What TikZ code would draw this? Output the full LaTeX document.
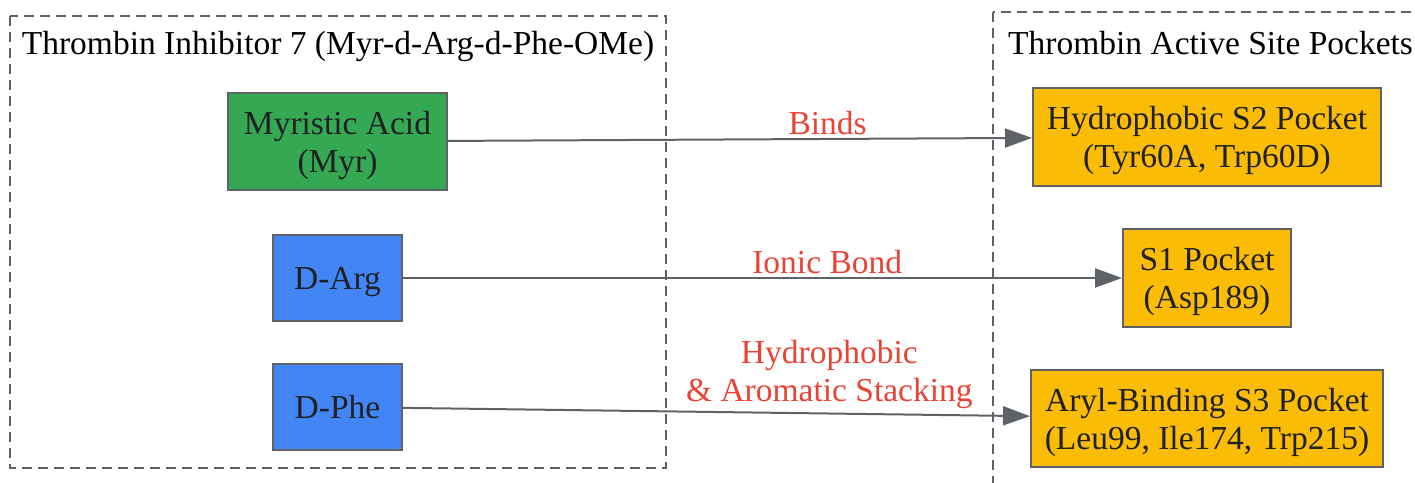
\documentclass[tikz,border=0pt]{standalone}
\usepackage{fontspec}
\setmainfont{Liberation Serif}
\usetikzlibrary{
  arrows.meta,
  positioning,
}
\definecolor{myrgreen}{HTML}{34A853}
\definecolor{argblue}{HTML}{4285F4}
\definecolor{pocketyellow}{HTML}{FBBC05}
\definecolor{bondred}{HTML}{EA4335}
\definecolor{linegray}{HTML}{5F6368}
\definecolor{textdark}{HTML}{202124}

\begin{document}
\begin{tikzpicture}[x=1pt, y=-1pt,
  part/.style={draw=linegray, line width=2pt, text=textdark, align=center, text depth=0pt, font=\fontsize{33.5}{38}\selectfont},
  link/.style={draw=linegray, line width=2pt, -{Triangle[length=27pt, width=19pt]}},
  bond/.style={text=bondred, align=center, font=\fontsize{33.5}{38}\selectfont},
  cluster/.style={draw=linegray, line width=2pt, dash pattern=on 10pt off 6pt}]
\useasboundingbox (0,0) rectangle (1415,482);
\clip (0,0) rectangle (1415,482);

% clusters
\draw[cluster] (10,16) rectangle (666,468);
\draw[cluster] (993,12) rectangle (1440,510);
\node[font=\fontsize{33.5}{38}\selectfont] (inhib) at (338,46) {Thrombin Inhibitor 7 (Myr-d-Arg-d-Phe-OMe)};
\node[font=\fontsize{33.5}{38}\selectfont, anchor=west, inner sep=0pt] (site) at (1008,43) {Thrombin Active Site Pockets};

% inhibitor parts
\node[part, fill=myrgreen, minimum width=219pt, minimum height=97pt] (myr) at (337.5,141.5) {Myristic Acid\\(Myr)};
\node[part, fill=argblue, minimum width=129pt, minimum height=86pt] (arg) at (337.5,278) {D-Arg};
\node[part, fill=argblue, minimum width=129pt, minimum height=86pt] (phe) at (337.5,407) {D-Phe};

% pockets
\node[part, fill=pocketyellow, minimum width=348pt, minimum height=98pt] (s2) at (1207,137) {Hydrophobic S2 Pocket\\(Tyr60A, Trp60D)};
\node[part, fill=pocketyellow, minimum width=168pt, minimum height=98pt] (s1) at (1207,278) {S1 Pocket\\(Asp189)};
\node[part, fill=pocketyellow, minimum width=352pt, minimum height=97pt] (s3) at (1207,418.5) {Aryl-Binding S3 Pocket\\(Leu99, Ile174, Trp215)};

% interactions
\draw[link] (myr) -- node[bond, pos=0.65, above] {Binds} (s2);
\draw[link] (arg) -- node[bond, pos=0.59, above] {Ionic Bond} (s1);
\draw[link] (phe) -- node[bond, pos=0.68, above] {Hydrophobic\\\& Aromatic Stacking} (s3);
\end{tikzpicture}
\end{document}
